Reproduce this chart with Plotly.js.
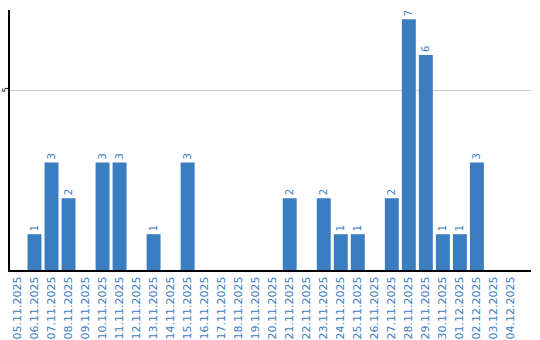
<!DOCTYPE html>
<html><head><meta charset="utf-8">
<script src="https://cdn.plot.ly/plotly-3.0.1.min.js"></script>
<style>html,body{margin:0;padding:0;background:#fff}#c{width:540px;height:340px}</style>
</head><body><div id="c"></div>
<script>
const dates = ["05.11.2025","06.11.2025","07.11.2025","08.11.2025","09.11.2025","10.11.2025","11.11.2025","12.11.2025","13.11.2025","14.11.2025","15.11.2025","16.11.2025","17.11.2025","18.11.2025","19.11.2025","20.11.2025","21.11.2025","22.11.2025","23.11.2025","24.11.2025","25.11.2025","26.11.2025","27.11.2025","28.11.2025","29.11.2025","30.11.2025","01.12.2025","02.12.2025","03.12.2025","04.12.2025"];
const counts = [0,1,3,2,0,3,3,0,1,0,3,0,0,0,0,0,2,0,2,1,1,0,2,7,6,1,1,3,0,0];
const barColor = "#3b7dc1";
const labels = counts.map(v => v ? String(v) : "");
Plotly.newPlot("c", [{
  type: "bar", x: dates, y: counts, text: labels, textposition: "outside",
  textangle: -90, cliponaxis: false,
  textfont: {family: "DejaVu Sans", size: 10, color: barColor},
  marker: {color: barColor}, hoverinfo: "none"
}], {
  width: 540, height: 340,
  margin: {l: 10, r: 9, t: 10, b: 70},
  paper_bgcolor: "#fff", plot_bgcolor: "#fff",
  bargap: 0.18, showlegend: false,
  xaxis: {type: "category", range: [-0.44, 30.18], tickangle: -90,
    tickfont: {family: "DejaVu Sans", size: 11, color: barColor},
    showline: true, linecolor: "#000", linewidth: 2, showgrid: false, ticks: "", zeroline: false},
  yaxis: {range: [0, 7.26], dtick: 5, tick0: 0, tickangle: -90, showticklabels: true,
    tickfont: {family: "DejaVu Sans", size: 8, color: "#000"}, ticklabelstandoff: -4,
    showline: true, linecolor: "#000", linewidth: 2, gridcolor: "#c8c8c8", zeroline: false, ticks: "",
    tickvals: [5], ticktext: ["5"]}
}, {displayModeBar: false, staticPlot: true});
</script></body></html>
